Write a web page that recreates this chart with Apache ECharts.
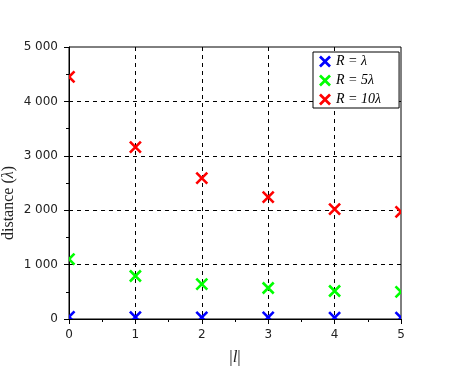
<!DOCTYPE html>
<html>
<head>
<meta charset="utf-8">
<script src="https://cdn.jsdelivr.net/npm/echarts@6/dist/echarts.min.js"></script>
<style>
  html, body { margin: 0; padding: 0; background: #fff; }
  #charts { width: 460px; height: 373px; }
</style>
</head>
<body>
<div id="charts"></div>
<script>
// data
const lValues = [0, 1, 2, 3, 4, 5];
const distR1 = [40, 35, 30, 30, 25, 25];          // R = λ
const distR5 = [1100, 790, 640, 570, 515, 500];   // R = 5λ
const distR10 = [4450, 3160, 2590, 2240, 2020, 1970]; // R = 10λ
const seriesNames = ['R = λ', 'R = 5λ', 'R = 10λ'];
const seriesColors = ['#0000ff', '#00ff00', '#ff0000'];

// X shaped legend icon
const crossPath = 'path://M0,1.6L1.6,0L5,3.4L8.4,0L10,1.6L6.6,5L10,8.4L8.4,10L5,6.6L1.6,10L0,8.4L3.4,5Z';

const pairs = arr => lValues.map((l, i) => [l, arr[i]]);
const allData = [distR1, distR5, distR10];

const spaceFmt = v => String(v).replace(/\B(?=(\d{3})+(?!\d))/g, ' ');

// custom series so markers on the frame get cut like in the picture
const crossItem = color => (params, api) => {
    const p = api.coord([api.value(0), api.value(1)]);
    const r = 5.5;
    return {
        type: 'path',
        shape: {
            pathData: `M${p[0] - r},${p[1] - r}L${p[0] + r},${p[1] + r}M${p[0] + r},${p[1] - r}L${p[0] - r},${p[1] + r}`
        },
        style: { stroke: color, lineWidth: 2.6, fill: null }
    };
};

const option = {
    animation: false,
    grid: {
        left: 69,
        right: 59,
        top: 47,
        bottom: 54,
        outerBoundsMode: 'none',
        containLabel: false,
        show: true,
        borderColor: '#000',
        borderWidth: 1
    },
    legend: {
        data: seriesNames,
        orient: 'vertical',
        left: 313,
        top: 52,
        padding: [2, 18, 1, 6],
        itemGap: 4,
        itemWidth: 12,
        itemHeight: 12,
        icon: crossPath,
        backgroundColor: '#fff',
        borderColor: '#000',
        borderWidth: 1,
        borderRadius: 0,
        textStyle: {
            fontFamily: 'Liberation Serif',
            fontStyle: 'italic',
            fontSize: 14,
            lineHeight: 15,
            color: '#000'
        }
    },
    xAxis: {
        type: 'value',
        min: 0,
        max: 5,
        interval: 1,
        name: '|{i|l}|',
        nameLocation: 'middle',
        nameGap: 30,
        nameMoveOverlap: false,
        nameTextStyle: {
            fontFamily: 'Liberation Serif',
            fontSize: 17,
            color: '#222',
            rich: {
                i: { fontFamily: 'Liberation Serif', fontStyle: 'italic', fontSize: 17, color: '#222' }
            }
        },
        axisLine: { show: true, lineStyle: { color: '#000', width: 1 } },
        axisTick: { show: true, length: 5, lineStyle: { color: '#000' } },
        minorTick: { show: true, splitNumber: 2, length: 3, lineStyle: { color: '#000' } },
        axisLabel: {
            margin: 10,
            fontFamily: 'DejaVu Sans',
            fontSize: 12,
            color: '#222'
        },
        splitLine: {
            show: true,
            showMinLine: false,
            showMaxLine: false,
            lineStyle: { color: '#000', type: [4, 4], width: 1 }
        }
    },
    yAxis: {
        type: 'value',
        min: 0,
        max: 5000,
        interval: 1000,
        name: 'distance ({i|λ})',
        nameLocation: 'middle',
        nameGap: 52,
        nameMoveOverlap: false,
        nameTextStyle: {
            fontFamily: 'Liberation Serif',
            fontSize: 16,
            color: '#222',
            padding: [0, 40, 0, 0],
            rich: {
                i: { fontFamily: 'Liberation Serif', fontStyle: 'italic', fontSize: 16, color: '#222' }
            }
        },
        axisLine: { show: true, lineStyle: { color: '#000', width: 1 } },
        axisTick: { show: true, length: 5, lineStyle: { color: '#000' } },
        minorTick: { show: true, splitNumber: 2, length: 3, lineStyle: { color: '#000' } },
        axisLabel: {
            margin: 11,
            fontFamily: 'DejaVu Sans',
            fontSize: 12,
            color: '#222',
            formatter: spaceFmt
        },
        splitLine: {
            show: true,
            showMinLine: false,
            showMaxLine: false,
            lineStyle: { color: '#000', type: [4, 4], width: 1 }
        }
    },
    series: seriesNames.map((name, k) => ({
        name: name,
        type: 'custom',
        coordinateSystem: 'cartesian2d',
        data: pairs(allData[k]),
        clip: true,
        itemStyle: { color: seriesColors[k] },
        renderItem: crossItem(seriesColors[k])
    }))
};

const chart = echarts.init(document.getElementById('charts'));
chart.setOption(option);
</script>
</body>
</html>
